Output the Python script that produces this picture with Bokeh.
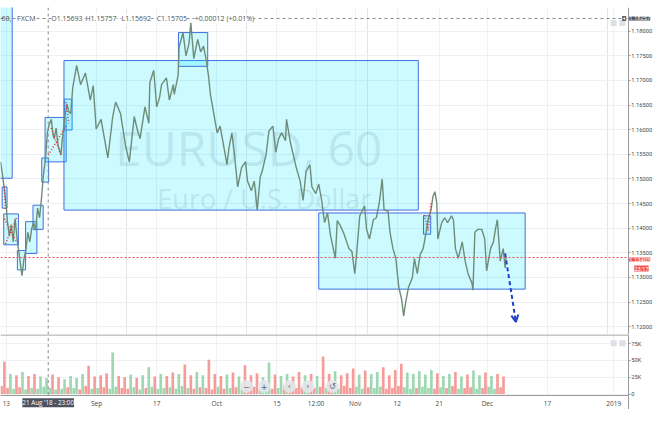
import numpy as np
from bokeh.plotting import figure
from bokeh.models import (FixedTicker, NumeralTickFormatter, Range1d, Grid, Span,
                          Label, Arrow, OpenHead)
from bokeh.layouts import column
from bokeh.embed import file_html
from bokeh.resources import INLINE
from bokeh.core.properties import value

# ---------------- data (x = trading days since 13 Aug 2018, hourly EURUSD) ----------------
t = [-0.97, -0.65, -0.32, 0.00, 0.16, 0.49, 0.81, 1.14, 1.46, 1.79, 2.11, 2.44, 2.60, 2.92,
     3.25, 3.57, 3.90, 4.22, 4.55, 4.87, 5.19, 5.52, 5.84, 6.17, 6.49, 6.82, 7.14, 7.47,
     7.79, 7.95, 8.28, 8.60, 9.09, 9.25, 9.74, 10.06, 10.39, 10.71, 11.04, 11.69, 12.34,
     13.15, 13.96, 14.45, 14.94, 15.75, 16.88, 17.69, 18.18, 18.99, 19.81, 20.45, 21.27,
     21.75, 22.24, 23.05, 23.70, 23.86, 24.51, 25.00, 25.49, 25.81, 26.62, 27.11, 27.76,
     27.92, 28.57, 28.73, 29.38, 29.87, 30.36, 30.68, 31.17, 31.82, 32.31, 32.79, 33.28,
     33.60, 33.93, 34.25, 34.58, 35.06, 35.55, 36.04, 36.69, 37.01, 37.50, 37.99, 38.47,
     39.12, 39.77, 40.10, 40.75, 41.23, 41.72, 42.21, 42.53, 43.18, 43.67, 44.32, 44.81,
     45.29, 45.78, 46.43, 46.59, 47.24, 47.73, 48.21, 48.86, 49.35, 49.84, 50.49, 50.81,
     51.46, 51.95, 52.44, 52.92, 53.41, 53.90, 54.71, 55.03, 55.52, 56.17, 56.98, 57.47,
     57.95, 58.28, 58.77, 59.58, 59.90, 60.39, 61.04, 61.53, 62.01, 62.50, 62.82, 63.47,
     63.80, 64.29, 64.77, 65.26, 65.75, 66.07, 66.40, 66.88, 67.53, 67.86, 68.34, 68.83,
     69.32, 69.81, 70.13, 70.62, 70.94, 71.27, 71.59, 71.75, 72.40, 72.89, 73.38, 74.03,
     74.35, 74.68, 75.16, 75.81, 76.30, 76.79, 77.44, 77.60, 77.92, 78.41, 79.06, 79.55,
     79.87, 80.52, 81.01, 81.33, 81.66, 82.14, 82.63, 82.95, 83.12]
close = [1.15347, 1.15093, 1.14779, 1.14427, 1.14153, 1.13840, 1.14074, 1.13722, 1.14192,
         1.13781, 1.13487, 1.13174, 1.13037, 1.13370, 1.13565, 1.13918, 1.13722, 1.13996,
         1.14114, 1.13957, 1.14407, 1.14212, 1.14603, 1.15093, 1.15386, 1.15935, 1.16111,
         1.16209, 1.15876, 1.15817, 1.16032, 1.15680, 1.15484, 1.15739, 1.16267, 1.16522,
         1.16365, 1.16326, 1.16855, 1.17305, 1.16914, 1.17149, 1.16600, 1.16894, 1.16013,
         1.16209, 1.15426, 1.16267, 1.16561, 1.16326, 1.15680, 1.15347, 1.16267, 1.16013,
         1.15817, 1.16463, 1.16130, 1.16953, 1.17207, 1.16463, 1.16659, 1.16914, 1.17051,
         1.16600, 1.16914, 1.16718, 1.17109, 1.17677, 1.17971, 1.17501, 1.17736, 1.18167,
         1.17442, 1.17834, 1.17579, 1.17697, 1.17384, 1.17109, 1.16718, 1.16502, 1.16267,
         1.15935, 1.16072, 1.15739, 1.15288, 1.15621, 1.15935, 1.15426, 1.14838, 1.15230,
         1.15347, 1.14956, 1.14760, 1.14956, 1.14368, 1.15034, 1.15151, 1.15484, 1.15974,
         1.16072, 1.15543, 1.15817, 1.15935, 1.15778, 1.16209, 1.15739, 1.15484, 1.15230,
         1.14956, 1.14564, 1.15151, 1.15288, 1.14838, 1.14701, 1.14897, 1.14564, 1.14114,
         1.14309, 1.13859, 1.13389, 1.14153, 1.14055, 1.13879, 1.13585, 1.13526, 1.13076,
         1.13526, 1.14251, 1.14447, 1.13977, 1.13781, 1.14172, 1.14212, 1.14505, 1.14995,
         1.14368, 1.14349, 1.13918, 1.13585, 1.13389, 1.12802, 1.12547, 1.12214, 1.12489,
         1.12802, 1.12998, 1.13389, 1.13076, 1.13468, 1.13585, 1.13918, 1.14172, 1.14368,
         1.14642, 1.14740, 1.14505, 1.13781, 1.14114, 1.14212, 1.14114, 1.14251, 1.14172,
         1.13585, 1.13389, 1.13722, 1.13330, 1.13076, 1.12880, 1.12743, 1.13918, 1.13977,
         1.13977, 1.13781, 1.13135, 1.13585, 1.13722, 1.13977, 1.14172, 1.13330, 1.13585,
         1.13193, 1.13405]

vol_day = [48, 30, 28, 33, 27, 30, 26, 24, 29, 25,
           22, 27, 24, 30, 42, 26, 28, 31, 62, 27,
           25, 29, 24, 28, 40, 26, 30, 27, 32, 30,
           44, 28, 33, 28, 51, 30, 27, 29, 32, 26,
           43, 28, 31, 25, 47, 29, 27, 30, 26, 33,
           28, 30, 27, 56, 30, 34, 28, 31, 38, 29,
           35, 30, 33, 40, 28, 36, 45, 32, 30, 34,
           29, 36, 31, 27, 30, 33, 26, 29, 35, 28,
           32, 27, 30, 26, 14]
vol_night = [12, 9, 8, 10, 7, 9, 8, 11, 9, 7,
             8, 10, 9, 7, 12, 8, 9, 10, 8, 11,
             9, 8, 10, 7, 9, 11, 8, 9, 10, 8,
             12, 9, 8, 10, 9, 7, 11, 8, 9, 10,
             8, 9, 11, 7, 10, 8, 9, 12, 8, 9,
             10, 8, 9, 11, 9, 10, 8, 12, 9, 11,
             8, 10, 9, 11, 8, 9, 12, 10, 8, 9,
             11, 9, 8, 10, 9, 12, 8, 9, 10, 8,
             9, 11, 8, 10, 6]
vol_first_day = -1

x_tick_pos = [0, 15, 25, 35, 45, 51.5, 58, 65, 72, 80, 90, 101]
x_tick_labels = ["13", "Sep", "17", "Oct", "15", "12:00", "Nov", "12", "21", "Dec", "17", "2019"]
price_ticks = [1.120, 1.125, 1.130, 1.135, 1.140, 1.145, 1.150, 1.155, 1.160, 1.165, 1.170, 1.175, 1.180]
vol_ticks = [0, 25, 50, 75]
vol_tick_labels = ["0", "25K", "50K", "75K"]

last_price = 1.13405
last_time_text = "23:17"
cross_t = 6.96
cross_price = 1.18257
cross_time_text = "21 Aug '18 - 23:00"

legend_texts = ["60,", "FXCM", "O1.15693", "H1.15757", "L1.15692", "C1.15705", "+0.00012 (+0.01%)"]
legend_t = [-0.81, 1.79, 7.47, 13.15, 19.16, 25.0, 31.33]

# rectangles drawn on the chart (left, right, top, bottom)
box_left = [-2.0, -0.70, -0.44, 1.83, 3.20, 4.43, 5.89, 6.44, 9.63, 9.58, 28.62, 51.95, 69.37]
box_right = [0.97, 0.11, 2.00, 3.20, 5.08, 6.12, 7.03, 9.95, 10.93, 68.51, 33.49, 86.28, 70.57]
box_top = [1.19, 1.14838, 1.14290, 1.13546, 1.14133, 1.14466, 1.15426, 1.16248, 1.16620,
           1.17403, 1.17971, 1.14309, 1.14251]
box_bottom = [1.15014, 1.14407, 1.13663, 1.13154, 1.13487, 1.13976, 1.14936, 1.15347, 1.15993,
              1.14368, 1.17286, 1.12763, 1.13878]

# red dotted pattern lines
pat_t = [[-0.32, -0.16], [-0.32, 1.79], [-0.16, 1.79], [6.98, 9.90], [7.47, 9.09],
         [9.90, 10.39], [69.48, 70.13, 70.62]]
pat_p = [[1.14838, 1.14388], [1.14192, 1.13702], [1.13683, 1.14231], [1.15484, 1.16072],
         [1.16032, 1.15484], [1.16561, 1.16130], [1.14270, 1.13957, 1.14505]]

# forecast arrow
arrow_t = [82.95, 84.74]
arrow_p = [1.13487, 1.12097]

# watermark
wm_title = "EURUSD, 60"
wm_sub = "Euro / U.S. Dollar"

# ---------------- styling ----------------
FONT = "Open Sans"
SCALE_FONT = "Roboto"
AX = "#9b9b9b"
LBL = "#4a4a4a"
GRID = "#eef0f3"

X0, XAX, X1 = -0.974, 103.41, 107.79      # left edge, price-scale line, right edge
xr = Range1d(X0, X1)

p = figure(width=654, height=334, x_range=xr, y_range=Range1d(1.11842, 1.18480),
           output_backend="svg", toolbar_location=None, x_axis_location=None,
           y_axis_location="right", min_border_left=0, min_border_right=0,
           min_border_top=7, min_border_bottom=0)
p.background_fill_color = "white"
p.border_fill_color = "white"
p.outline_line_color = None

ya = p.yaxis[0]
ya.fixed_location = XAX
ya.ticker = FixedTicker(ticks=price_ticks)
ya.formatter = NumeralTickFormatter(format="0.00000")
ya.axis_line_color = AX
ya.major_tick_line_color = AX
ya.major_tick_out = 2
ya.major_tick_in = 0
ya.minor_tick_line_color = None
ya.major_label_standoff = 1
ya.major_label_text_font = SCALE_FONT
ya.major_label_text_font_size = "5.8px"
ya.major_label_text_color = LBL
p.ygrid.grid_line_color = GRID
p.add_layout(Grid(dimension=0, ticker=FixedTicker(ticks=x_tick_pos), grid_line_color=GRID))

# watermark
p.text(x=[40.3], y=[1.15631], text=[wm_title], text_font=value(FONT),
       text_font_size="48px", text_color="#6b7280", text_alpha=0.17,
       text_align="center", text_baseline="middle")
p.text(x=[42.9], y=[1.14593], text=[wm_sub], text_font=value(FONT),
       text_font_size="27px", text_color="#6b7280", text_alpha=0.17,
       text_align="center", text_baseline="middle")

# rectangles
p.quad(left=box_left, right=box_right, top=box_top, bottom=box_bottom,
       fill_color="#00e5ff", fill_alpha=0.2, line_color="#3f6fe0", line_width=1)

# price
p.line(t, close, line_color="#6e8c78", line_width=1.4)

# red dotted patterns
p.multi_line(xs=pat_t, ys=pat_p, line_color="#e53935", line_width=1.6, line_dash="1 2")

# current price line and horizontal crosshair (stop at the price scale)
p.segment(x0=[X0], x1=[XAX], y0=[last_price], y1=[last_price], line_color="#ef5350",
          line_dash="2 2", line_width=1)
p.segment(x0=[X0], x1=[XAX], y0=[cross_price], y1=[cross_price], line_color="#8a8a8a",
          line_dash="3 3", line_width=1)

# price-scale area background
p.quad(left=[XAX], right=[X1 + 1], top=[1.2], bottom=[1.1], fill_color="white", line_color=None)

# small pane buttons
p.rect(x=[101.0, 102.45], y=[1.18167, 1.18167], width=6, height=6, width_units="screen",
       height_units="screen", fill_color="#dcdfe4", line_color=None)

p.add_layout(Span(location=cross_t, dimension="height", line_color="#8a8a8a",
                  line_dash="3 3", line_width=1))

# forecast arrow
p.add_layout(Arrow(x_start=arrow_t[0], y_start=arrow_p[0], x_end=arrow_t[1], y_end=arrow_p[1],
                   line_color="#1f3fcf", line_width=2, line_dash="4 3",
                   end=OpenHead(size=7, line_color="#1f3fcf", line_width=2)))

# legend header
for i, (txt, tx) in enumerate(zip(legend_texts, legend_t)):
    p.add_layout(Label(x=tx, y=cross_price, text=txt, text_font=FONT, text_font_size="7px",
                       text_color="#505050", text_baseline="middle", text_align="left",
                       background_fill_color=None if i == 0 else "white",
                       background_fill_alpha=1.0))

p.add_layout(Label(x=XAX, y=cross_price, text="+", text_font=SCALE_FONT, text_font_size="7px",
                   text_color="white", text_baseline="middle", text_align="right",
                   background_fill_color="#4c525e", x_offset=-2))

# labels on the price scale
p.add_layout(Label(x=XAX, y=cross_price, text="{:.5f}".format(cross_price), text_font=SCALE_FONT,
                   text_font_size="5.8px", text_color="white", text_baseline="middle",
                   background_fill_color="#4c525e", x_offset=1))
p.add_layout(Label(x=XAX, y=last_price, text="{:.5f}".format(last_price), text_font=SCALE_FONT,
                   text_font_size="5.8px", text_color="white", text_baseline="middle",
                   background_fill_color="#ef5350", x_offset=1, y_offset=-2))
p.add_layout(Label(x=XAX, y=last_price, text=last_time_text, text_font=SCALE_FONT,
                   text_font_size="5.8px", text_color="white", text_baseline="middle",
                   background_fill_color="#ef5350", x_offset=6, y_offset=-11))

# ---------------- volume pane ----------------
V_BOT = -1.43
v = figure(width=654, height=75, x_range=xr, y_range=Range1d(-22.9, 88.6),
           output_backend="svg", toolbar_location=None, y_axis_location="right",
           min_border_left=0, min_border_right=0, min_border_top=0, min_border_bottom=0)
v.background_fill_color = "white"
v.border_fill_color = "white"
v.outline_line_color = None

n = len(vol_day)
days = np.arange(n) + vol_first_day
bx = np.concatenate([days + 0.2, days + 0.68])
bh = np.array(vol_night + vol_day, dtype=float)
ct = np.array(t)
cp = np.array(close)
start = np.interp(bx - 0.24, ct, cp)
end = np.interp(bx + 0.24, ct, cp)
cols = np.where(end >= start, "#93d3a8", "#f4918d")
keep = bx <= ct[-1]
v.vbar(x=bx[keep], top=bh[keep], bottom=0, width=0.44, fill_color=list(cols[keep]),
       line_color=None, fill_alpha=0.9)

# cover the scale areas (time scale below, volume scale right)
v.quad(left=[X0 - 1], right=[X1 + 1], top=[V_BOT], bottom=[-30], fill_color="white", line_color=None)
v.quad(left=[XAX], right=[X1 + 1], top=[100], bottom=[-30], fill_color="white", line_color=None)
# pane separator
v.segment(x0=[X0], x1=[XAX], y0=[87.9], y1=[87.9], line_color="#8a8a8a", line_width=1)
v.segment(x0=[cross_t], x1=[cross_t], y0=[V_BOT], y1=[88.6], line_color="#8a8a8a",
          line_dash="3 3", line_width=1)
v.rect(x=[101.0, 102.45], y=[75.7, 75.7], width=6, height=6, width_units="screen",
       height_units="screen", fill_color="#dcdfe4", line_color=None)

va = v.yaxis[0]
va.fixed_location = XAX
va.ticker = FixedTicker(ticks=vol_ticks)
va.major_label_overrides = {k: s for k, s in zip(vol_ticks, vol_tick_labels)}
va.axis_line_color = AX
va.major_tick_line_color = AX
va.major_tick_out = 2
va.major_tick_in = 0
va.minor_tick_line_color = None
va.major_label_standoff = 1
va.major_label_text_font = SCALE_FONT
va.major_label_text_font_size = "5.8px"
va.major_label_text_color = LBL
v.ygrid.grid_line_color = GRID

xa = v.xaxis[0]
xa.fixed_location = V_BOT
xa.bounds = (X0, XAX)
xa.ticker = FixedTicker(ticks=x_tick_pos)
xa.major_label_overrides = {k: s for k, s in zip(x_tick_pos, x_tick_labels)}
xa.axis_line_color = AX
xa.major_tick_line_color = None
xa.major_tick_out = 0
xa.major_tick_in = 0
xa.minor_tick_line_color = None
xa.major_label_standoff = 4
xa.major_label_text_font = FONT
xa.major_label_text_font_size = "6.5px"
xa.major_label_text_color = LBL
v.xgrid.grid_line_color = GRID

# navigation buttons
btn_t = [39.94, 42.86, 47.08, 50.16, 54.22]
btn_sym = ["\u2212", "+", "\u2039", "\u203a", "\u21ba"]
v.scatter(x=btn_t, y=[11.4] * 5, size=13, fill_color="#e3e6ea", fill_alpha=0.9, line_color=None)
v.text(x=btn_t, y=[11.4] * 5, text=btn_sym, text_font=value("DejaVu Sans"), text_font_size="8px",
       text_color="#5f6368", text_align="center", text_baseline="middle")

v.add_layout(Label(x=cross_t, y=-13.0, text=cross_time_text, text_font=FONT, text_font_size="6.3px",
                   text_color="white", text_align="center", text_baseline="middle",
                   background_fill_color="#4c525e"))

layout = column(p, v, spacing=0)
open("out.html", "w").write(file_html(layout, INLINE))
